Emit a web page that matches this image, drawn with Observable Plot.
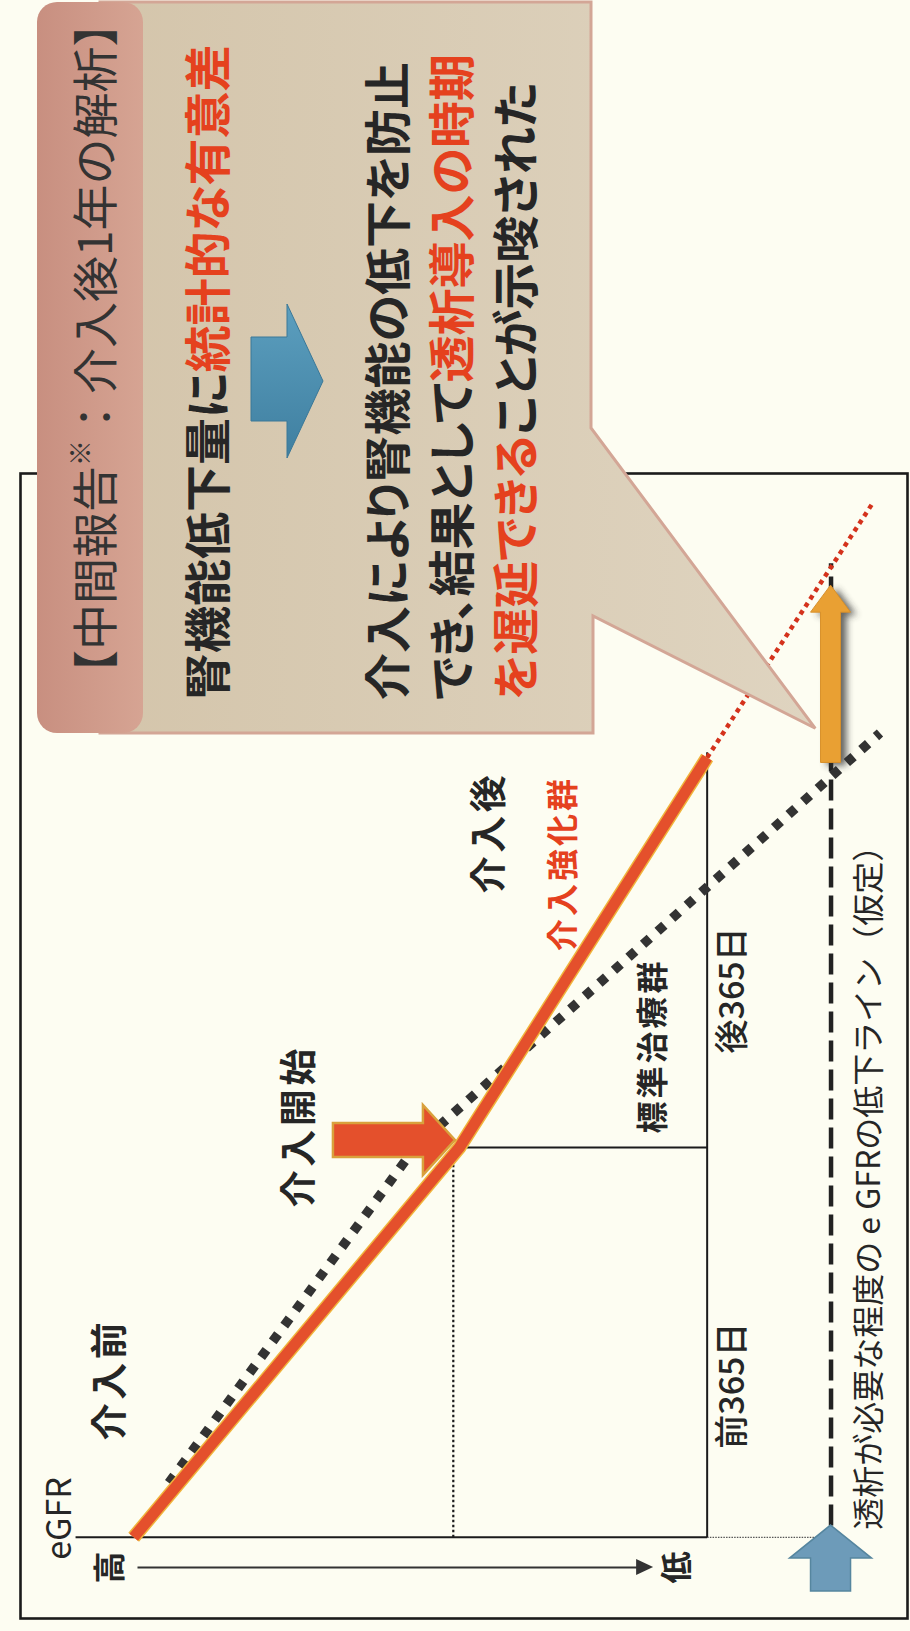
<!DOCTYPE html>
<html>
<head>
<meta charset="utf-8">
<script src="https://cdn.jsdelivr.net/npm/d3@7"></script>
<script src="https://cdn.jsdelivr.net/npm/@observablehq/plot@0.6"></script>
<style>
html, body { margin: 0; padding: 0; background: #fdfdf2; }
#chart svg { display: block; }
</style>
</head>
<body>
<div id="chart"></div>
<script>
// ---------- data ----------
const phaseDays = [-365, 0, 365];                 // 前365日, 介入開始, 後365日
const phaseNames = ["介入前", "介入開始", "介入後"];
const dayTickLabels = ["前365日", "後365日"];
const intensiveEgfr = [60.6, 39.3, 23.1];         // 介入強化群 at phaseDays
const intensiveProjectionDays = [365, 605];
const intensiveProjectionEgfr = [23.1, 12.2];
const standardDays = [-314, 0, 388];
const standardEgfr = [58.3, 42.2, 11.8];          // 標準治療群
const groupNames = ["介入強化群", "標準治療群"];
const dialysisEgfr = 15;
const dialysisLineDays = [-354, 547];
const delayDays = [360, 526];                      // 透析導入の遅延
const egfrAxisTitle = "eGFR";
const egfrAxisEnds = ["高", "低"];
const dialysisLabel = "透析が必要な程度の e GFRの低下ライン（仮定）";
const calloutTitle = ["【中間報告", "※", "：介入後1年の解析】"];
const calloutLines = [
  [["腎機能低下量に", "dark"], ["統計的な有意差", "red"]],
  [["介入により腎機能の低下を防止", "dark"]],
  [["でき、結果として", "dark"], ["透析導入の時期", "red"]],
  [["を遅延できる", "red"], ["ことが示唆された", "dark"]]
];

// ---------- tables ----------
const intensive = phaseDays.map((t, i) => ({t, e: intensiveEgfr[i]}));
const projection = intensiveProjectionDays.map((t, i) => ({t, e: intensiveProjectionEgfr[i]}));
const standard = standardDays.map((t, i) => ({t, e: standardEgfr[i]}));
const axisE = intensiveEgfr[2];

const FONT = '"Noto Sans CJK JP","Noto Sans",sans-serif';
const DARK = "#262626", RED = "#e5411e";

const xDomain = [68, 10], yDomain = [-441, 631];
const W = 910, H = 1631, mT = 473, mB = 13, mL = 20, mR = 3;
const xFallback = d3.scaleLinear().domain(xDomain).range([mL, W - mR]);
const yFallback = d3.scaleLinear().domain(yDomain).range([H - mB, mT]);
function sc(scales) {
  return {
    X: scales && typeof scales.x === "function" ? scales.x : xFallback,
    Y: scales && typeof scales.y === "function" ? scales.y : yFallback
  };
}
function poly(g, pts, attrs) {
  const p = g.append("path").attr("d", "M" + pts.map(p => p.join(",")).join("L") + "Z");
  for (const k in attrs) p.attr(k, attrs[k]);
  return p;
}

// arrows drawn at data-anchored positions
function arrowsMark(index, scales) {
  const {X, Y} = sc(scales);
  const g = d3.create("svg:g");
  const defs = g.append("defs");
  defs.append("filter").attr("id", "shadowBlur").attr("x", "-50%").attr("y", "-20%").attr("width", "200%").attr("height", "140%")
    .append("feGaussianBlur").attr("stdDeviation", 3.5);

  // intervention start arrow (pointing to the bend)
  const tx = X(39.56), ty = Y(6.5);
  poly(g, [[tx - 122, ty - 17], [tx - 32, ty - 17], [tx - 32, ty - 35], [tx, ty], [tx - 32, ty + 35], [tx - 32, ty + 17], [tx - 122, ty + 17]],
    {fill: "#e4502c", stroke: "#d9a13c", "stroke-width": 2.5, "stroke-linejoin": "miter"});

  // dialysis threshold marker arrow at bottom
  const bx = X(dialysisEgfr), btip = Y(dialysisLineDays[0]);
  poly(g, [[bx, btip], [bx + 41, btip + 33], [bx + 20, btip + 33], [bx + 20, btip + 66], [bx - 20, btip + 66], [bx - 20, btip + 33], [bx - 41, btip + 33]],
    {fill: "#6d9bb9", stroke: "#56869f", "stroke-width": 1.5});

  // delay arrow (orange) with shadow
  const ox = X(dialysisEgfr), obase = Y(delayDays[0]), otip = Y(delayDays[1]);
  const opts = [[ox, otip], [ox + 20, otip + 27], [ox + 10, otip + 27], [ox + 10, obase], [ox - 10, obase], [ox - 10, otip + 27], [ox - 20, otip + 27]];
  poly(g, opts.map(([a, b]) => [a + 6, b + 3]), {fill: "#333", opacity: 0.75, filter: "url(#shadowBlur)"});
  poly(g, opts, {fill: "#e9a033", stroke: "#d8902a", "stroke-width": 1});

  // 高 → 低 arrowhead
  const ay = Y(-393.3), ax = X(26.6);
  poly(g, [[ax, ay], [ax - 17, ay - 8], [ax - 17, ay + 8]], {fill: "#333"});
  return g.node();
}

// callout box with text
function vtext(g, x, yb, size, weight) {
  return g.append("text")
    .attr("transform", `translate(${x},${yb}) rotate(-90)`)
    .attr("text-anchor", "start")
    .attr("dominant-baseline", "central")
    .attr("font-family", FONT)
    .attr("font-size", size)
    .attr("font-weight", weight);
}
function calloutMark(index, scales) {
  const {X, Y} = sc(scales);
  const g = d3.create("svg:g");
  const defs = g.append("defs");
  const bg = defs.append("linearGradient").attr("id", "bodyGrad").attr("x1", 0).attr("x2", 1).attr("y1", 0).attr("y2", 0);
  bg.append("stop").attr("offset", "0%").attr("stop-color", "#d4c5ab");
  bg.append("stop").attr("offset", "100%").attr("stop-color", "#dfd4c0");
  const hg = defs.append("linearGradient").attr("id", "headGrad").attr("x1", 0).attr("x2", 1).attr("y1", 0).attr("y2", 0);
  hg.append("stop").attr("offset", "0%").attr("stop-color", "#c88f80");
  hg.append("stop").attr("offset", "100%").attr("stop-color", "#d6a493");
  const ag = defs.append("linearGradient").attr("id", "blueGrad").attr("x1", 0).attr("x2", 0).attr("y1", 0).attr("y2", 1);
  ag.append("stop").attr("offset", "0%").attr("stop-color", "#5c9fbf");
  ag.append("stop").attr("offset", "100%").attr("stop-color", "#3f7fa0");

  const tipX = X(16), tipY = Y(392);
  g.append("path")
    .attr("d", `M100,2H591V428L${tipX},${tipY}L593,616V733H100Z`)
    .attr("fill", "url(#bodyGrad)").attr("stroke", "#d3a696").attr("stroke-width", 3).attr("stroke-linejoin", "miter");
  g.append("rect").attr("x", 37).attr("y", 2).attr("width", 106).attr("height", 731).attr("rx", 20)
    .attr("fill", "url(#headGrad)");

  // title
  const tt = vtext(g, 92, 696, 46, 400).attr("fill", "#333");
  tt.append("tspan").text(calloutTitle[0]);
  tt.append("tspan").attr("font-size", 26).attr("dy", -14).text(calloutTitle[1]);
  tt.append("tspan").attr("dy", 14).text(calloutTitle[2]);

  // lines
  const xs = [204, 384, 448, 512];
  calloutLines.forEach((parts, i) => {
    const t = vtext(g, xs[i], 700, 47, 700).style("font-feature-settings", '"palt"');
    for (const [s, c] of parts) t.append("tspan").attr("fill", c === "red" ? RED : DARK).text(s);
  });

  // blue down arrow between statements
  poly(g, [[251, 337], [287, 337], [287, 304], [323, 381], [287, 458], [287, 421], [251, 421]],
    {fill: "url(#blueGrad)", stroke: "#3a7898", "stroke-width": 1});
  return g.node();
}

const chart = Plot.plot({
  width: W, height: H,
  marginTop: mT, marginBottom: mB, marginLeft: mL, marginRight: mR,
  x: {domain: xDomain, axis: null},
  y: {domain: yDomain, axis: null},
  style: {background: "#fdfdf2", fontFamily: FONT, overflow: "visible"},
  marks: [
    Plot.frame({stroke: "#1b1b1b", strokeWidth: 2.6}),
    // axes of the concept chart
    Plot.link([{x1: 64.4, x2: axisE, y1: phaseDays[0], y2: phaseDays[0]}],
      {x1: "x1", x2: "x2", y1: "y1", y2: "y2", stroke: "#1b1b1b", strokeWidth: 2}),
    Plot.link([{x1: axisE, x2: 16.0, y1: phaseDays[0], y2: phaseDays[0]}],
      {x1: "x1", x2: "x2", y1: "y1", y2: "y2", stroke: "#555", strokeWidth: 1.4, strokeDasharray: "1.5 1.2"}),
    Plot.link([{x1: axisE, x2: axisE, y1: phaseDays[0], y2: phaseDays[2] + 5}],
      {x1: "x1", x2: "x2", y1: "y1", y2: "y2", stroke: "#1b1b1b", strokeWidth: 2}),
    Plot.link([{x1: intensiveEgfr[1], x2: axisE, y1: phaseDays[1], y2: phaseDays[1]}],
      {x1: "x1", x2: "x2", y1: "y1", y2: "y2", stroke: "#1b1b1b", strokeWidth: 2}),
    Plot.link([{x1: 39.7, x2: 39.7, y1: phaseDays[0], y2: phaseDays[1] - 14}],
      {x1: "x1", x2: "x2", y1: "y1", y2: "y2", stroke: "#1b1b1b", strokeWidth: 2.2, strokeDasharray: "2.5 2.5"}),
    // 高 → 低 arrow shaft
    Plot.link([{x1: 60.35, x2: 27.5, y1: -393.3, y2: -393.3}],
      {x1: "x1", x2: "x2", y1: "y1", y2: "y2", stroke: "#333", strokeWidth: 2}),
    // dialysis threshold (dashed)
    Plot.link([{x1: dialysisEgfr, x2: dialysisEgfr, y1: dialysisLineDays[0], y2: dialysisLineDays[1]}],
      {x1: "x1", x2: "x2", y1: "y1", y2: "y2", stroke: "#222", strokeWidth: 4.5, strokeDasharray: "21 8", strokeLinecap: "butt"}),
    // standard treatment group (square dots)
    Plot.line(standard, {x: "e", y: "t", stroke: "#333", strokeWidth: 9.5, strokeDasharray: "9 10.5", strokeLinecap: "butt", strokeLinejoin: "miter"}),
    // intensive group projection
    Plot.line(projection, {x: "e", y: "t", stroke: "#d4321c", strokeWidth: 4.5, strokeDasharray: "4.5 4.5", strokeLinecap: "butt"}),
    // intensive group
    Plot.line(intensive, {x: "e", y: "t", stroke: "#f0b43c", strokeWidth: 14, strokeLinecap: "butt", strokeLinejoin: "miter"}),
    Plot.line(intensive, {x: "e", y: "t", stroke: "#e4502c", strokeWidth: 11, strokeLinecap: "butt", strokeLinejoin: "miter"}),
    arrowsMark,
    // labels
    Plot.text(phaseNames, {
      x: (d, i) => [62.1, 49.7, 37.3][i], y: (d, i) => [-274, -56, 238][i], text: d => d,
      rotate: -90, textAnchor: "start", lineAnchor: "middle", fontSize: 37, fontWeight: 700, fill: DARK
    }),
    Plot.text(groupNames, {
      x: (d, i) => [32.5, 26.6][i], y: (d, i) => [184, 13][i], text: d => d,
      rotate: -90, textAnchor: "start", lineAnchor: "middle", fontSize: 32, fontWeight: 700,
      fill: (d, i) => i === 0 ? RED : DARK
    }),
    Plot.text(dayTickLabels, {
      x: 21.4, y: (d, i) => [-282, 88][i], text: d => d,
      rotate: -90, textAnchor: "start", lineAnchor: "middle", fontSize: 34, fontWeight: 500, fill: DARK
    }),
    Plot.text([dialysisLabel], {
      x: 12.45, y: -358, text: d => d,
      rotate: -90, textAnchor: "start", lineAnchor: "middle", fontSize: 32, fontWeight: 400, fill: DARK
    }),
    Plot.text([egfrAxisTitle], {
      x: 65.4, y: -386, text: d => d,
      rotate: -90, textAnchor: "start", lineAnchor: "middle", fontSize: 34, fontWeight: 400, fill: DARK
    }),
    Plot.text(egfrAxisEnds, {
      x: (d, i) => [62.1, 25.0][i], y: -393.3, text: d => d,
      rotate: -90, textAnchor: "middle", lineAnchor: "middle", fontSize: 32, fontWeight: 700, fill: DARK
    }),
    calloutMark
  ]
});
d3.select(chart).selectAll("text")
  .filter(function() { return phaseNames.includes(this.textContent); })
  .style("letter-spacing", "3.5px");
d3.select(chart).selectAll("text")
  .filter(function() { return groupNames.includes(this.textContent); })
  .style("letter-spacing", "3px");
document.getElementById("chart").appendChild(chart);
</script>
</body>
</html>
